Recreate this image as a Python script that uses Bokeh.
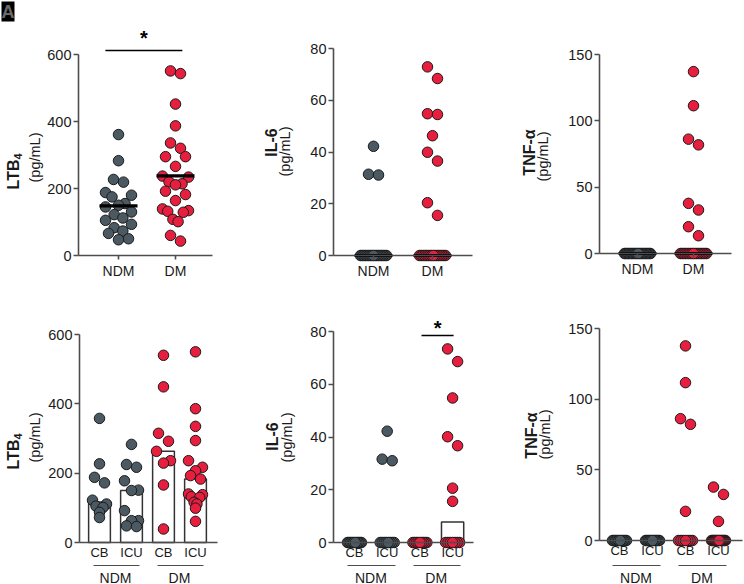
from bokeh.plotting import figure
from bokeh.models import Range1d, LinearAxis, FixedTicker, Label
from bokeh.layouts import row, column
from bokeh.embed import file_html
from bokeh.resources import INLINE
from statistics import mean, median

# ---------------- data ----------------
groups = ["NDM", "DM"]
subgroups = ["CB", "ICU"]
unit_label = "(pg/mL)"

# top row: all patients
ltb4_ndm = [361, 283, 227, 219, 188, 180, 175, 155, 150, 145, 130, 122, 112, 105, 93, 83, 73, 66, 50, 47]
ltb4_dm = [551, 543, 452, 387, 336, 320, 295, 295, 266, 237, 234, 220, 214, 211, 192, 182, 164, 139,
           134, 132, 129, 108, 101, 60, 43]
il6_ndm = [42.2, 31.4, 31.1, 0, 0, 0, 0, 0, 0, 0, 0, 0, 0, 0, 0, 0, 0, 0, 0, 0]
il6_dm = [72.9, 68.4, 54.8, 54.5, 46.3, 39.9, 36.5, 20.4, 15.5, 0, 0, 0, 0, 0, 0, 0, 0, 0, 0, 0, 0,
          0, 0, 0, 0]
tnf_ndm = [0, 0, 0, 0, 0, 0, 0, 0, 0, 0, 0, 0, 0, 0, 0, 0, 0, 0, 0, 0]
tnf_dm = [137.1, 111.4, 86.2, 81.9, 37.8, 32.8, 20.2, 13.4, 0, 0, 0, 0, 0, 0, 0, 0, 0, 0, 0, 0, 0,
          0, 0, 0, 0]

# bottom row: split by CB / ICU
ltb4_ndm_cb = [358, 227, 188, 172, 122, 111, 105, 101, 87, 72]
ltb4_ndm_icu = [283, 225, 217, 178, 151, 150, 92, 63, 63, 48, 46]
ltb4_dm_cb = [540, 449, 315, 292, 263, 236, 229, 166, 39]
ltb4_dm_icu = [550, 386, 335, 294, 236, 217, 207, 193, 183, 140, 138, 132, 130, 116, 111, 99, 61]
il6_ndm_cb = [0, 0, 0, 0, 0, 0, 0, 0, 0, 0]
il6_ndm_icu = [42.2, 31.6, 31.0, 0, 0, 0, 0, 0, 0, 0, 0]
il6_dm_cb = [0, 0, 0, 0, 0, 0, 0, 0, 0]
il6_dm_icu = [73.4, 68.6, 54.8, 40.1, 36.7, 20.6, 15.6, 0, 0, 0, 0, 0, 0, 0]
tnf_ndm_cb = [0, 0, 0, 0, 0, 0, 0, 0, 0, 0]
tnf_ndm_icu = [0, 0, 0, 0, 0, 0, 0, 0, 0, 0, 0]
tnf_dm_cb = [137.7, 111.7, 86.2, 82.2, 20.6, 0, 0, 0, 0, 0, 0, 0]
tnf_dm_icu = [37.8, 32.6, 13.5, 0, 0, 0, 0, 0, 0, 0, 0, 0, 0, 0, 0, 0, 0]

ticks_ltb4 = [0, 200, 400, 600]
ticks_il6 = [0, 20, 40, 60, 80]
ticks_tnf = [0, 50, 100, 150]

# ---------------- style ----------------
FONT = "Liberation Sans"
GRAY = "#4b5962"
RED = "#e81e3e"
EDGE = "#1b1b1b"
AXIS = "#4d4d4d"
TXT = "#1a1a1a"


def spread(vals, kpx, spx, d=10.0, maxw=26.0, thr=13.0):
    """Prism-like column scatter: points close in y are set side by side."""
    n = len(vals)
    order = sorted(range(n), key=lambda i: -vals[i])
    rows = []
    for i in order:
        if rows and (vals[rows[-1][0]] - vals[i]) * kpx < thr:
            rows[-1].append(i)
        else:
            rows.append([i])
    offs = [0.0] * n
    for r in rows:
        m = len(r)
        if m < 2:
            continue
        sp = min(d, maxw / (m - 1))
        slots = []
        lo, hi = 0, m - 1
        while lo <= hi:
            slots.append(lo)
            if lo != hi:
                slots.append(hi)
            lo += 1
            hi -= 1
        for j, i in enumerate(r):
            offs[i] = (slots[j] - (m - 1) / 2) * sp / spx
    return offs


def style_axis(ax, line_w=1.6):
    ax.axis_line_color = AXIS
    ax.axis_line_width = line_w
    ax.major_tick_line_color = AXIS
    ax.major_tick_line_width = line_w
    ax.major_tick_in = 0
    ax.minor_tick_line_color = None
    ax.major_label_text_font = FONT
    ax.major_label_text_color = TXT


def build(spec):
    fx0, fy0, fx1, fy1 = spec["fig"]
    FL, FR = spec["axis_x"]
    zero_px, top_px = spec["zero_px"], spec["top_px"]
    yticks = spec["yticks"]
    ymax = yticks[-1]
    C1, S = spec["c1"], spec["s"]
    k = (zero_px - top_px) / ymax

    def dx(px):
        return 1 + (px - C1) / S

    def dy(py):
        return (zero_px - py) / k

    p = figure(width=fx1 - fx0, height=fy1 - fy0,
               x_range=Range1d(dx(fx0), dx(fx1)), y_range=Range1d(dy(fy1), dy(fy0)),
               output_backend="svg", toolbar_location=None,
               x_axis_location=None, y_axis_location=None,
               min_border_left=0, min_border_right=0, min_border_top=0, min_border_bottom=0,
               background_fill_color="white", border_fill_color="white")
    p.outline_line_color = None
    p.grid.visible = False

    ya = LinearAxis(fixed_location=dx(FL), bounds=(0, ymax), ticker=FixedTicker(ticks=yticks))
    style_axis(ya)
    ya.major_tick_out = 5
    ya.major_label_standoff = 2
    ya.major_label_text_font_size = "14.5px"
    p.add_layout(ya, "left")

    series = spec["series"]
    n = len(series)
    xa = LinearAxis(fixed_location=0, bounds=(dx(FL), dx(FR)),
                    ticker=FixedTicker(ticks=list(range(1, n + 1))),
                    major_label_overrides={i + 1: lab for i, lab in enumerate(spec["xlabels"])})
    style_axis(xa)
    xa.major_tick_out = spec["xtick_out"]
    xa.major_label_standoff = spec["xstandoff"]
    xa.major_label_text_font_size = spec["xfont"]
    p.add_layout(xa, "below")

    if spec.get("group_line_px") is not None:
        gy = dy(spec["group_line_px"])
        for gi, g in enumerate(groups):
            a, b = 2 * gi + 1, 2 * gi + 2
            c = (a + b) / 2
            ga = LinearAxis(fixed_location=gy, bounds=(a - 0.2, b + 0.24),
                            ticker=FixedTicker(ticks=[c]), major_label_overrides={c: g})
            style_axis(ga, 1.2)
            ga.major_tick_line_color = None
            ga.major_tick_out = 0
            ga.major_label_standoff = 4
            ga.major_label_text_font_size = "14px"
            p.add_layout(ga, "below")

    positions = list(range(1, n + 1))
    stats = [spec["stat"](v) for v in series]

    if spec["summary"] == "bar":
        p.vbar(x=positions, top=stats, bottom=0, width=0.68, fill_color="white",
               line_color="#333333", line_width=1.5)

    for pos, vals, col in zip(positions, series, spec["colors"]):
        offs = spread(vals, k, S, maxw=spec["maxw"])
        p.scatter(x=[pos + o for o in offs], y=vals, size=10.5, fill_color=col,
                  line_color=EDGE, line_width=1)

    if spec["summary"] == "line":
        hw = 19.0 / S
        p.segment(x0=[q - hw for q in positions], x1=[q + hw for q in positions],
                  y0=stats, y1=stats, line_color="black", line_width=3.2)

    sig = spec.get("sig")
    if sig is not None:
        ys = dy(sig["y_px"])
        p.segment(x0=[sig["x"][0]], x1=[sig["x"][1]], y0=[ys], y1=[ys],
                  line_color="black", line_width=1.3)
        p.add_layout(Label(x=(sig["x"][0] + sig["x"][1]) / 2, y=dy(sig["star_px"] + 4), text="*",
                           text_font=FONT, text_font_size="20px", text_font_style="bold",
                           text_align="center", text_baseline="middle", text_color="black"))

    # y-axis titles
    t = spec["title"]
    tx, ty = t["px"]
    if t.get("sub"):
        p.add_layout(Label(x=dx(tx), y=dy(ty), text=t["text"], angle=90, angle_units="deg",
                           text_font=FONT, text_font_size="16px", text_font_style="bold",
                           text_align="right", text_baseline="middle", text_color=TXT))
        p.add_layout(Label(x=dx(tx + 4.5), y=dy(ty), text=t["sub"], angle=90, angle_units="deg",
                           text_font=FONT, text_font_size="11px", text_font_style="bold",
                           text_align="left", text_baseline="middle", text_color=TXT))
    else:
        p.add_layout(Label(x=dx(tx), y=dy(ty), text=t["text"], angle=90, angle_units="deg",
                           text_font=FONT, text_font_size="16px", text_font_style="bold",
                           text_align="center", text_baseline="middle", text_color=TXT))
    ux, uy = t["unit_px"]
    p.add_layout(Label(x=dx(ux), y=dy(uy), text=unit_label, angle=90, angle_units="deg",
                       text_font=FONT, text_font_size="14.5px",
                       text_align="center", text_baseline="middle", text_color=TXT))

    if spec.get("corner"):
        p.add_layout(Label(x=dx(1), y=dy(1), text="A", text_font=FONT, text_font_size="18px",
                           text_font_style="bold", text_align="left", text_baseline="top",
                           text_color="#6a6a6a", background_fill_color="black"))
    return p


top_common = dict(xlabels=groups, colors=[GRAY, RED], xtick_out=4, xstandoff=3, xfont="14px",
                  maxw=26.0)
bot_labels = [s for g in groups for s in subgroups]
bot_common = dict(xlabels=bot_labels, colors=[GRAY, GRAY, RED, RED], xtick_out=0, xstandoff=2,
                  xfont="13px", maxw=14.0, group_line_px=565,
                  summary="bar", stat=median)

specs = [
    dict(top_common, fig=(0, 0, 250, 290), axis_x=(78, 212), zero_px=255, top_px=54,
         yticks=ticks_ltb4, c1=118, s=57, series=[ltb4_ndm, ltb4_dm], summary="line", stat=mean,
         sig=dict(x=(0.77, 2.12), y_px=50, star_px=33),
         title=dict(text="LTB", sub="4", px=(12.5, 159), unit_px=(34, 157)), corner=True),
    dict(top_common, fig=(250, 0, 500, 290), axis_x=(333, 472), zero_px=255, top_px=48,
         yticks=ticks_il6, c1=373, s=59, series=[il6_ndm, il6_dm], summary="line", stat=median,
         title=dict(text="IL-6", px=(271, 142), unit_px=(284, 151))),
    dict(top_common, fig=(500, 0, 744, 290), axis_x=(599, 731), zero_px=253, top_px=54,
         yticks=ticks_tnf, c1=637, s=56, series=[tnf_ndm, tnf_dm], summary="line", stat=median,
         title=dict(text="TNF-\u03b1", px=(529, 152), unit_px=(542, 156))),
    dict(bot_common, fig=(0, 290, 250, 584), axis_x=(79, 217), zero_px=542, top_px=334,
         yticks=ticks_ltb4, c1=99, s=32,
         series=[ltb4_ndm_cb, ltb4_ndm_icu, ltb4_dm_cb, ltb4_dm_icu],
         title=dict(text="LTB", sub="4", px=(12.5, 439), unit_px=(34, 437))),
    dict(bot_common, fig=(250, 290, 500, 584), axis_x=(333, 473), zero_px=542, top_px=331,
         yticks=ticks_il6, c1=354, s=32.7,
         series=[il6_ndm_cb, il6_ndm_icu, il6_dm_cb, il6_dm_icu],
         sig=dict(x=(3.05, 4.03), y_px=335, star_px=323),
         title=dict(text="IL-6", px=(272, 436), unit_px=(286, 437))),
    dict(bot_common, fig=(500, 290, 744, 584), axis_x=(599, 742), zero_px=540, top_px=328,
         yticks=ticks_tnf, c1=619, s=33,
         series=[tnf_ndm_cb, tnf_ndm_icu, tnf_dm_cb, tnf_dm_icu],
         title=dict(text="TNF-\u03b1", px=(531, 435), unit_px=(544, 434))),
]

figs = [build(s) for s in specs]
layout = column(row(figs[0], figs[1], figs[2]), row(figs[3], figs[4], figs[5]))

open("out.html", "w").write(file_html(layout, INLINE))
